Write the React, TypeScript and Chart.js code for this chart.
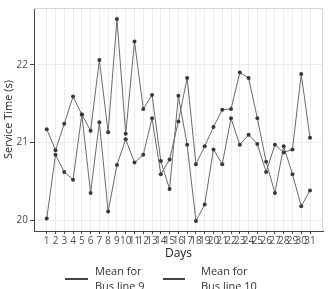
import React, { useEffect, useRef } from "react";
import { Chart, registerables } from "chart.js";

Chart.register(...registerables);

const days = [1, 2, 3, 4, 5, 6, 7, 8, 9, 10, 11, 12, 13, 14, 15, 16, 17, 18, 19, 20, 21, 22, 23, 24, 25, 26, 27, 28, 29, 30, 31];
const busLine9 = [21.17, 20.9, 21.24, 21.59, 21.36, 21.15, 22.06, 21.13, 22.59, 21.11, 22.3, 21.43, 21.61, 20.76, 20.4, 21.6, 20.97, 19.99, 20.2, 20.91, 20.72, 21.31, 20.97, 21.1, 20.98, 20.62, 20.97, 20.87, 20.91, 21.88, 21.06];
const busLine10 = [20.02, 20.84, 20.62, 20.52, 21.36, 20.35, 21.26, 20.11, 20.71, 21.04, 20.74, 20.84, 21.31, 20.59, 20.78, 21.27, 21.83, 20.72, 20.95, 21.2, 21.42, 21.43, 21.9, 21.83, 21.31, 20.75, 20.35, 20.95, 20.59, 20.18, 20.38];
const yTicks = [20, 21, 22];
const legendLabels = [
  ["Mean for", "Bus line 9"],
  ["Mean for", "Bus line 10"],
];

const FONT = "'Open Sans', 'DejaVu Sans', sans-serif";

export default function App() {
  const ref = useRef<HTMLCanvasElement>(null);

  useEffect(() => {
    if (!ref.current) return;

    const frame = {
      id: "frame",
      beforeDatasetsDraw(chart: any) {
        const { ctx, chartArea: a } = chart;
        ctx.save();
        ctx.strokeStyle = "#d6d6d6";
        ctx.lineWidth = 1;
        ctx.beginPath();
        ctx.moveTo(a.left, a.top + 0.5);
        ctx.lineTo(a.right - 0.5, a.top + 0.5);
        ctx.lineTo(a.right - 0.5, a.bottom);
        ctx.stroke();
        ctx.restore();
      },
    };

    const legend = {
      id: "customLegend",
      afterDraw(chart: any) {
        const { ctx } = chart;
        const entries = [
          { x0: 65, x1: 88, tx: 95 },
          { x0: 163, x1: 185, tx: 201 },
        ];
        ctx.save();
        entries.forEach((e, i) => {
          ctx.strokeStyle = "#444";
          ctx.lineWidth = 2;
          ctx.beginPath();
          ctx.moveTo(e.x0, 279);
          ctx.lineTo(e.x1, 279);
          ctx.stroke();
          ctx.fillStyle = "#333";
          ctx.font = `11px ${FONT}`;
          ctx.textBaseline = "middle";
          ctx.textAlign = "left";
          ctx.fillText(legendLabels[i][0], e.tx, 272);
          ctx.fillText(legendLabels[i][1], e.tx, 287);
        });
        ctx.restore();
      },
    };

    const chart = new Chart(ref.current, {
      type: "line",
      data: {
        datasets: [
          {
            label: "Mean for Bus line 9",
            data: days.map((d, i) => ({ x: d, y: busLine9[i] })),
            borderColor: "#6a6a6a",
            borderWidth: 1,
            pointRadius: 2,
            pointBackgroundColor: "#3a3a3a",
            pointBorderWidth: 0,
            tension: 0,
          },
          {
            label: "Mean for Bus line 10",
            data: days.map((d, i) => ({ x: d, y: busLine10[i] })),
            borderColor: "#6a6a6a",
            borderWidth: 1,
            pointRadius: 2,
            pointBackgroundColor: "#3a3a3a",
            pointBorderWidth: 0,
            tension: 0,
          },
        ],
      },
      options: {
        animation: false,
        responsive: false,
        maintainAspectRatio: false,
        layout: { padding: { top: 5, right: 5, bottom: 26, left: 0 } },
        plugins: {
          legend: { display: false },
          tooltip: { enabled: false },
        },
        scales: {
          x: {
            type: "linear",
            min: -0.45,
            max: 32.48,
            afterBuildTicks: (scale: any) => {
              scale.ticks = days.map((d) => ({ value: d }));
            },
            afterFit: (scale: any) => {
              scale.height = 32;
            },
            grid: {
              color: "#ececec",
              tickColor: "#444",
              tickLength: 3,
              drawTicks: true,
            },
            border: { color: "#444", width: 1 },
            ticks: {
              autoSkip: false,
              maxRotation: 0,
              minRotation: 0,
              padding: 1,
              color: "#4d4d4d",
              font: { family: FONT, size: 10 },
            },
            title: {
              display: true,
              text: "Days",
              color: "#222",
              font: { family: FONT, size: 12 },
              padding: { top: 0, bottom: 2 },
            },
          },
          y: {
            type: "linear",
            min: 19.86,
            max: 22.73,
            afterBuildTicks: (scale: any) => {
              scale.ticks = yTicks.map((v) => ({ value: v }));
            },
            afterFit: (scale: any) => {
              scale.width = 34;
            },
            grid: {
              color: "#ececec",
              tickColor: "#444",
              tickLength: 4,
            },
            border: { color: "#444", width: 1 },
            ticks: {
              padding: 2,
              color: "#4d4d4d",
              font: { family: FONT, size: 10 },
            },
            title: {
              display: true,
              text: "Service Time (s)",
              color: "#222",
              font: { family: FONT, size: 11 },
              padding: { top: 2, bottom: 0 },
            },
          },
        },
      },
      plugins: [frame, legend],
    });

    return () => chart.destroy();
  }, []);

  return (
    <div style={{ position: "fixed", left: 0, top: 0, width: 328, height: 289, background: "#fff" }}>
      <canvas ref={ref} width={328} height={289} style={{ display: "block", width: 328, height: 289 }} />
    </div>
  );
}
